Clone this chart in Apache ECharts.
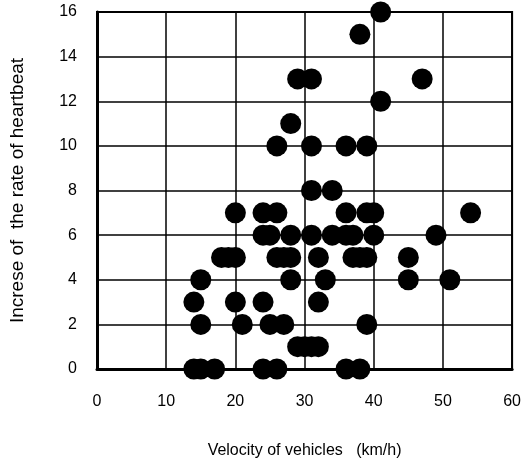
<!DOCTYPE html>
<html>
<head>
<meta charset="utf-8">
<script src="https://cdn.jsdelivr.net/npm/echarts@6/dist/echarts.min.js"></script>
<style>html,body{margin:0;padding:0;background:#fff}#c{width:524px;height:464px}</style>
</head>
<body>
<div id="c"></div>
<script>
var velocity = [41,38,29,31,47,41,28,26,31,36,39,31,34,
  20,24,26,36,39,40,54,
  24,25,28,31,34,36,37,40,49,
  18,19,20,26,27,28,32,37,38,39,45,
  15,28,33,45,51,
  14,20,24,32,
  15,21,25,27,39,
  29,30,31,32,
  14,15,17,24,26,36,38];
var heartbeat = [16,15,13,13,13,12,11,10,10,10,10,8,8,
  7,7,7,7,7,7,7,
  6,6,6,6,6,6,6,6,6,
  5,5,5,5,5,5,5,5,5,5,5,
  4,4,4,4,4,
  3,3,3,3,
  2,2,2,2,2,
  1,1,1,1,
  0,0,0,0,0,0,0];
var xTicks = [0,10,20,30,40,50,60];
var yTicks = [0,2,4,6,8,10,12,14,16];
var xTitle = 'Velocity of vehicles   (km/h)';
var yTitle = 'Increse of  the rate of heartbeat';

var pts = velocity.map(function(v,i){return [v, heartbeat[i]];});
var font = 'Liberation Sans, Arial, sans-serif';
var chart = echarts.init(document.getElementById('c'), null, {renderer:'canvas'});
chart.setOption({
  animation:false,
  backgroundColor:'#fff',
  grid:{left:92,right:9,top:12,bottom:93,show:true,borderColor:'#000',borderWidth:2},
  xAxis:{type:'value',min:xTicks[0],max:xTicks[xTicks.length-1],interval:10,
    name:xTitle,nameLocation:'middle',nameGap:74,
    nameTextStyle:{color:'#000',fontSize:16,fontFamily:font},
    axisLine:{show:true,lineStyle:{color:'#000',width:3}},
    axisTick:{show:false},
    axisLabel:{color:'#000',fontSize:16,fontFamily:font,margin:25},
    splitLine:{show:true,lineStyle:{color:'#000',width:1.5}}},
  yAxis:{type:'value',min:yTicks[0],max:yTicks[yTicks.length-1],interval:2,
    name:yTitle,nameLocation:'middle',nameGap:70,nameRotate:90,
    nameTextStyle:{color:'#000',fontSize:19,fontFamily:font},
    axisLine:{show:true,lineStyle:{color:'#000',width:3}},
    axisTick:{show:false},
    axisLabel:{color:'#000',fontSize:16,fontFamily:font,margin:20},
    splitLine:{show:true,lineStyle:{color:'#000',width:1.5}}},
  series:[{type:'scatter',data:pts,symbol:'circle',symbolSize:21,
    itemStyle:{color:'#000',opacity:1},clip:false,z:5}]
});
</script>
</body>
</html>
